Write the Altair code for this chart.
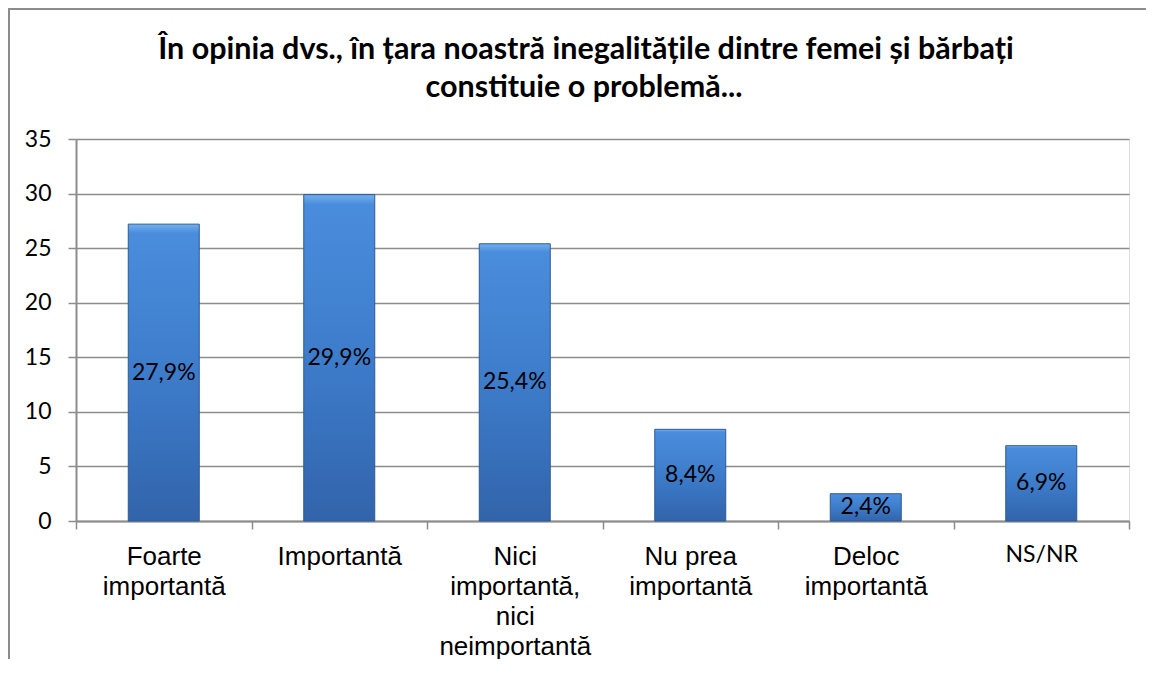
import altair as alt
import pandas as pd

categories = ["Foarte\nimportantă", "Importantă", "Nici\nimportantă,\nnici\nneimportantă",
              "Nu prea\nimportantă", "Deloc\nimportantă", "NS/NR"]
values = [27.2, 29.9, 25.4, 8.4, 2.5, 6.9]
labels = ["27,9%", "29,9%", "25,4%", "8,4%", "2,4%", "6,9%"]
y_ticks = [0, 5, 10, 15, 20, 25, 30, 35]
title_lines = ["În opinia dvs., în țara noastră inegalitățile dintre femei și bărbați",
               "constituie o problemă..."]

df = pd.DataFrame({"cat": categories, "val": values, "lab": labels})
df["half"] = df["val"] / 2

W, H = 1053, 382
xenc = alt.X("cat:N", sort=categories, title=None,
             scale=alt.Scale(paddingInner=0, paddingOuter=0),
             axis=alt.Axis(labelAngle=0, labelExpr="split(datum.label, '\\n')",
                           labelFont={"condition": {"test": "datum.value == 'NS/NR'", "value": "Lato"},
                                      "value": "Liberation Sans"},
                           labelFontSize={"condition": {"test": "datum.value == 'NS/NR'", "value": 23},
                                          "value": 26},
                           labelLineHeight=30, labelColor="#000000",
                           tickBand="extent", tickSize=8, tickColor="#8c8c8c", tickWidth=1.5,
                           domainColor="#8c8c8c", domainWidth=2, labelPadding=14,
                           labelBaseline="top"))

grad = alt.Gradient(gradient="linear", x1=0, y1=0, x2=0, y2=1,
                    stops=[alt.GradientStop(color="#74b0f0", offset=0),
                           alt.GradientStop(color="#4a8ddc", offset=0.03),
                           alt.GradientStop(color="#3d7ccb", offset=0.5),
                           alt.GradientStop(color="#3264ab", offset=1)])

bars = alt.Chart(df).mark_bar(size=71, color=grad, stroke="#2c5a96", strokeWidth=1).encode(
    x=xenc,
    y=alt.Y("val:Q", title=None,
            scale=alt.Scale(domain=[0, 35], nice=False),
            axis=alt.Axis(values=y_ticks, labelFont="Lato", labelFontSize=23, labelColor="#000000",
                          tickSize=8, tickColor="#8c8c8c", tickWidth=1.5, labelPadding=17,
                          domainColor="#8c8c8c", domainWidth=2, gridColor="#8c8c8c",
                          gridWidth=1.5)),
)

texts = alt.Chart(df).mark_text(font="Lato", fontSize=23, color="#000000", baseline="middle").encode(
    x=alt.X("cat:N", sort=categories),
    y=alt.Y("half:Q"),
    text="lab:N",
)

one = pd.DataFrame({"a": [0]})
frame_left = alt.Chart(one).mark_rule(color="#8c8c8c", strokeWidth=2).encode(
    x=alt.value(-67), x2=alt.value(-67), y=alt.value(-130), y2=alt.value(700))
frame_top = alt.Chart(one).mark_rule(color="#8c8c8c", strokeWidth=2).encode(
    x=alt.value(-68), x2=alt.value(1200), y=alt.value(-130), y2=alt.value(-130))

title1 = alt.Chart(pd.DataFrame({"t": [title_lines[0]]})).mark_text(
    font="Lato", fontSize=30.5, fontWeight="bold", color="#000000", baseline="middle", align="center"
).encode(x=alt.value(510), y=alt.value(-89), text="t:N")
title2 = alt.Chart(pd.DataFrame({"t": [title_lines[1]]})).mark_text(
    font="Lato", fontSize=30.5, fontWeight="bold", color="#000000", baseline="middle", align="center"
).encode(x=alt.value(508), y=alt.value(-51), text="t:N")

chart = alt.layer(frame_left, frame_top, bars, texts, title1, title2).properties(
    width=W, height=H,
    autosize=alt.AutoSizeParams(type="none"),
    padding={"left": 68, "top": 131, "right": 17, "bottom": 138},
).configure_view(stroke=None).configure(background="#ffffff")

chart.save("out.html", embed_options={"renderer": "svg", "actions": False})
